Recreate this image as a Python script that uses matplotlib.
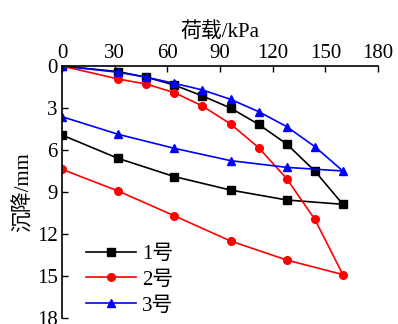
import matplotlib
matplotlib.use("Agg")
import matplotlib.pyplot as plt

# load / settlement readings (loading branch then unloading branch)
load_up = [0, 32, 48, 64, 80, 96, 112, 128, 144, 160]
load_down = [160, 128, 96, 64, 32, 0]

s1_up = [0, 0.4, 0.8, 1.36, 2.14, 3.0, 4.17, 5.57, 7.5, 9.88]
s1_down = [9.88, 9.57, 8.86, 7.9, 6.6, 4.93]
s2_up = [0, 0.93, 1.29, 1.9, 2.86, 4.14, 5.83, 8.05, 10.95, 14.9]
s2_down = [14.9, 13.86, 12.5, 10.7, 8.93, 7.38]
s3_up = [0, 0.45, 0.8, 1.24, 1.71, 2.38, 3.26, 4.33, 5.76, 7.5]
s3_down = [7.5, 7.24, 6.76, 5.88, 4.88, 3.62]

labels = ["1号", "2号", "3号"]
xticks = [0, 30, 60, 90, 120, 150, 180]
yticks = [0, 3, 6, 9, 12, 15, 18]

plt.rcParams["font.family"] = ["Liberation Serif", "Noto Sans CJK SC"]

fig = plt.figure(figsize=(3.98, 3.24), dpi=100)
ax = fig.add_axes([62 / 398, 1 - 318 / 324, 316 / 398, 252 / 324])

series = [(s1_up, s1_down, "black", "s"), (s2_up, s2_down, "red", "o"), (s3_up, s3_down, "blue", "^")]
for (up, down, col, mk), lab in zip(series, labels):
    ax.plot(load_up + load_down[1:], up + down[1:], color=col, marker=mk, ms=5.5, lw=1.2, label=lab)

ax.set_xlim(0, 180); ax.set_ylim(18, 0)
ax.set_xticks(xticks); ax.set_yticks(yticks)
ax.xaxis.tick_top(); ax.xaxis.set_label_position("top")
ax.tick_params(direction="in", labelsize=15, length=4, width=1)
ax.tick_params(axis="x", pad=2)
ax.tick_params(axis="y", pad=3)
for sp in ["right", "bottom"]:
    ax.spines[sp].set_visible(False)
for sp in ["left", "top"]:
    ax.spines[sp].set_linewidth(1.2)
ax.set_xlabel("荷载/kPa", fontsize=15, labelpad=5)
ax.set_ylabel("沉降/mm", fontsize=15, labelpad=2)
ax.legend(loc="lower left", bbox_to_anchor=(0.035, -0.04), frameon=False, fontsize=15,
          handlelength=2.4, handletextpad=0.3, labelspacing=0.3, borderaxespad=0.2)

fig.savefig("out.png", dpi=100)
